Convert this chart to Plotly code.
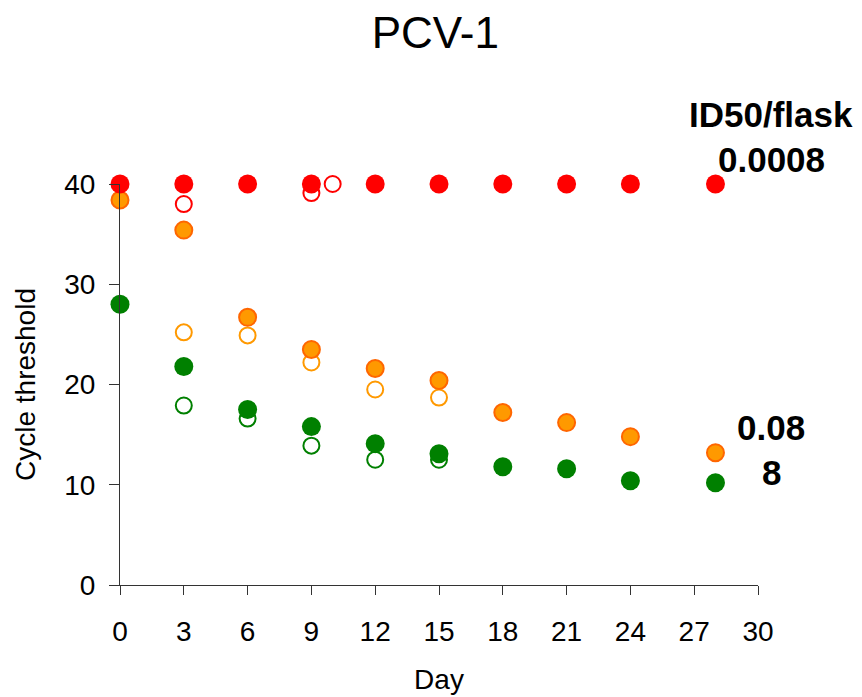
import plotly.graph_objects as go

# Days
days_full = [0, 3, 6, 9, 12, 15, 18, 21, 24, 28]
days_open = [3, 6, 9, 12, 15]

# ID50/flask 0.0008 (red)
red_filled = [40, 40, 40, 40, 40, 40, 40, 40, 40, 40]
red_open_days = [3, 9, 10]
red_open = [38.0, 39.1, 40.0]

# ID50/flask 0.08 (orange)
orange_filled = [38.4, 35.4, 26.7, 23.5, 21.6, 20.4, 17.2, 16.2, 14.8, 13.2]
orange_open = [25.2, 24.9, 22.2, 19.5, 18.7]

# ID50/flask 8 (green)
green_filled = [28.0, 21.8, 17.5, 15.8, 14.1, 13.1, 11.8, 11.6, 10.4, 10.2]
green_open = [17.9, 16.6, 13.9, 12.5, 12.5]

x_ticks = [0, 3, 6, 9, 12, 15, 18, 21, 24, 27, 30]
y_ticks = [0, 10, 20, 30, 40]

RED = "#FF0000"
ORANGE = "#FF9900"
ORANGE_EDGE = "#FF6600"
GREEN = "#008000"

fig = go.Figure()

def open_trace(x, y, color):
    fig.add_trace(go.Scatter(
        x=x, y=y, mode="markers", cliponaxis=False, showlegend=False,
        marker=dict(symbol="circle", size=16, color="white",
                    line=dict(color=color, width=2))))

def filled_trace(x, y, color, edge=None):
    fig.add_trace(go.Scatter(
        x=x, y=y, mode="markers", cliponaxis=False, showlegend=False,
        marker=dict(symbol="circle", size=17 if edge else 19, color=color,
                    line=dict(color=edge or color, width=2 if edge else 0))))

open_trace(days_open, green_open, GREEN)
open_trace(days_open, orange_open, ORANGE)
open_trace(red_open_days, red_open, RED)
filled_trace(days_full, green_filled, GREEN)
filled_trace(days_full, orange_filled, ORANGE, ORANGE_EDGE)
filled_trace(days_full, red_filled, RED)

font_family = "Liberation Sans, Arial, sans-serif"

annots = [
    ("ID50/flask", 115),
    ("0.0008", 160),
    ("0.08", 427),
    ("8", 472),
]
for text, ypix in annots:
    fig.add_annotation(
        text="<b>%s</b>" % text, xref="paper", yref="paper",
        x=(771 - 120) / (758 - 120), y=(585 - ypix) / (585 - 184),
        xanchor="center", yanchor="middle", showarrow=False,
        font=dict(family=font_family, size=35, color="black"))

fig.update_layout(
    width=862, height=697,
    margin=dict(l=120, r=104, t=184, b=112, autoexpand=False),
    paper_bgcolor="white", plot_bgcolor="white",
    font=dict(family=font_family, color="black"),
    title=dict(text="PCV-1", x=0.505, xref="container", xanchor="center",
               y=1 - 33 / 697, yref="container", yanchor="middle",
               font=dict(size=44, family=font_family, color="black")),
    xaxis=dict(range=[0, 30], tickvals=x_ticks, showgrid=False, zeroline=False,
               automargin=False,
               showline=True, linecolor="#333333", linewidth=1,
               ticks="outside", ticklen=9, tickcolor="#333333",
               tickfont=dict(size=28), ticklabelstandoff=12,
               title=dict(text="Day", font=dict(size=28), standoff=23)),
    yaxis=dict(range=[0, 40], tickvals=y_ticks, showgrid=False, zeroline=False,
               automargin=False,
               showline=True, linecolor="#333333", linewidth=1,
               ticks="outside", ticklen=10, tickcolor="#333333",
               tickfont=dict(size=28), ticklabelstandoff=8,
               title=dict(text="Cycle threshold", font=dict(size=28), standoff=20)),
)

fig.write_html("out.html")
